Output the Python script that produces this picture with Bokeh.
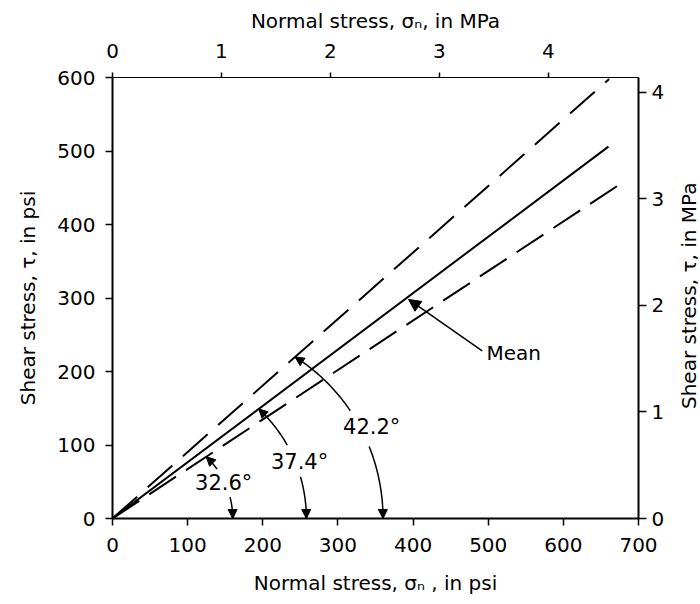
import math
import numpy as np
from bokeh.plotting import figure
from bokeh.layouts import row
from bokeh.models import Range1d, LinearAxis, FixedTicker, Arrow, NormalHead, Label
from bokeh.embed import file_html
from bokeh.resources import INLINE

PSI_PER_MPA = 145.038

# Strength envelopes through the origin: end points (psi)
env_names = ["upper", "mean", "lower"]
env_x_end = [661, 660, 683]
env_y_end = [598, 506, 460]
env_dash = ["33 14", "solid", "32 12"]

# Friction-angle annotations
angle_text = ["42.2°", "37.4°", "32.6°"]
angle_env = [0, 1, 2]                 # which envelope each arc reaches
arc_axis_x = [360, 258, 160]          # psi where the arc meets the x axis
arc_shrink = [0.09, 0.05, 0.06]
arc_gap_lo = [0.38, 0.34, 0.31]
arc_gap_hi = [0.59, 0.62, 0.76]
angle_label_x = [345, 249, 148]
angle_label_y = [125, 77, 48]

mean_label = "Mean"
mean_label_xy = (534, 225)
mean_arrow_from = (492, 228)
mean_arrow_to = (394, 298)

x_ticks = [0, 100, 200, 300, 400, 500, 600, 700]
y_ticks = [0, 100, 200, 300, 400, 500, 600]
mpa_ticks = [0, 1, 2, 3, 4]

right_title = "Shear stress, τ, in MPa"

FONT = "DejaVu Sans"
W_MAIN, W_SIDE, H = 670, 30, 600

p = figure(width=W_MAIN, height=H,
           x_range=Range1d(0, 700), y_range=Range1d(0, 600),
           x_axis_location=None, y_axis_location=None,
           output_backend="svg", toolbar_location=None,
           min_border_left=112, min_border_right=32,
           min_border_top=77, min_border_bottom=82)
p.extra_x_ranges = {"mpa": Range1d(0, 700 / PSI_PER_MPA)}
p.extra_y_ranges = {"mpa": Range1d(0, 600 / PSI_PER_MPA)}
p.outline_line_color = None
p.grid.grid_line_color = None
p.background_fill_color = "white"
p.border_fill_color = "white"


def style(ax, ticks, tick_out, standoff, title_standoff, line_width=2):
    ax.ticker = FixedTicker(ticks=ticks)
    ax.axis_line_color = "black"
    ax.axis_line_width = line_width
    ax.major_tick_line_color = "black"
    ax.major_tick_line_width = 1.5
    ax.major_tick_in = 0
    ax.major_tick_out = tick_out
    ax.minor_tick_line_color = None
    ax.major_label_text_font = FONT
    ax.major_label_text_font_size = "20px"
    ax.major_label_text_color = "black"
    ax.major_label_standoff = standoff
    ax.axis_label_text_font = FONT
    ax.axis_label_text_font_size = "20px"
    ax.axis_label_text_font_style = "normal"
    ax.axis_label_text_color = "black"
    ax.axis_label_standoff = title_standoff


bottom = LinearAxis(axis_label="Normal stress, σₙ , in psi")
style(bottom, x_ticks, 7, 12, 16)
p.add_layout(bottom, "below")

left = LinearAxis(axis_label="Shear stress, τ, in psi")
style(left, y_ticks, 7, 10, 14)
p.add_layout(left, "left")

top = LinearAxis(x_range_name="mpa", axis_label="Normal stress, σₙ, in MPa")
style(top, mpa_ticks, 5, 15, 8, line_width=1)
p.add_layout(top, "above")

right = LinearAxis(y_range_name="mpa")
style(right, mpa_ticks, 8, 5, 0)
p.add_layout(right, "right")

# envelopes
for xe, ye, dash in zip(env_x_end, env_y_end, env_dash):
    p.line([0, xe], [0, ye], line_color="black", line_width=2, line_dash=dash)


def arc_points(R, k, theta, t0, t1, n=40):
    t = np.linspace(t0, t1, n)
    r = R * (1 - k * t ** 2)
    return r * np.cos(t * theta), r * np.sin(t * theta)


for i in range(len(angle_text)):
    e = angle_env[i]
    theta = np.arctan2(env_y_end[e], env_x_end[e])
    R, k = arc_axis_x[i], arc_shrink[i]
    for t0, t1 in [(0.0, arc_gap_lo[i]), (arc_gap_hi[i], 1.0)]:
        ax_, ay_ = arc_points(R, k, theta, t0, t1)
        p.line(ax_, ay_, line_color="black", line_width=1.5)
    # arrow heads at both ends
    for ts, te in [(0.04, 0.0), (0.96, 1.0)]:
        sx, sy = arc_points(R, k, theta, ts, ts, 1)
        ex, ey = arc_points(R, k, theta, te, te, 1)
        p.add_layout(Arrow(end=NormalHead(size=9, fill_color="black", line_color="black"),
                           x_start=float(sx[0]), y_start=float(sy[0]),
                           x_end=float(ex[0]), y_end=float(ey[0]),
                           line_color="black", line_width=1.5))
    p.add_layout(Label(x=angle_label_x[i], y=angle_label_y[i], text=angle_text[i],
                       text_font=FONT, text_font_size="21px", text_color="black",
                       text_align="center", text_baseline="middle"))

p.add_layout(Arrow(end=NormalHead(size=12, fill_color="black", line_color="black"),
                   x_start=mean_arrow_from[0], y_start=mean_arrow_from[1],
                   x_end=mean_arrow_to[0], y_end=mean_arrow_to[1],
                   line_color="black", line_width=1.5))
p.add_layout(Label(x=mean_label_xy[0], y=mean_label_xy[1], text=mean_label,
                   text_font=FONT, text_font_size="20px", text_color="black",
                   text_align="center", text_baseline="middle"))

# narrow side strip carrying the right-hand axis title (reads bottom to top)
side = figure(width=W_SIDE, height=H, x_range=Range1d(0, 1), y_range=Range1d(0, 1),
              x_axis_location=None, y_axis_location=None,
              output_backend="svg", toolbar_location=None, min_border=0)
side.outline_line_color = None
side.grid.grid_line_color = None
side.background_fill_color = "white"
side.border_fill_color = "white"
side.add_layout(Label(x=0.6, y=(H - 297) / H, text=right_title, angle=math.pi / 2,
                      text_font=FONT, text_font_size="20px", text_color="black",
                      text_align="center", text_baseline="middle"))

layout = row(p, side, spacing=0)
open("out.html", "w").write(file_html(layout, INLINE))
